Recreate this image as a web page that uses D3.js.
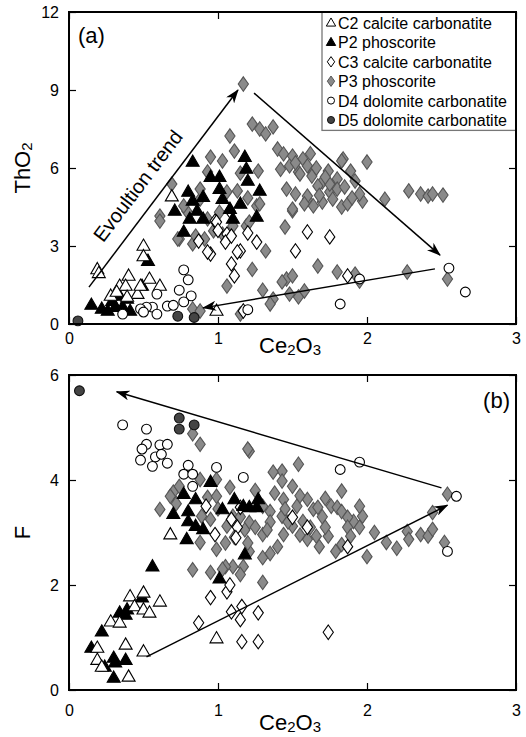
<!DOCTYPE html>
<html><head><meta charset="utf-8">
<script src="https://cdn.jsdelivr.net/npm/d3@7"></script>
<style>body{margin:0;background:#fff}svg{display:block;font-family:"Liberation Sans",Arial,sans-serif}</style>
</head><body><svg id="c" width="526" height="737"></svg>
<script>
// ---------- data ----------
const xTicks = [0, 1, 2, 3];
const yTicksA = [0, 3, 6, 9, 12];
const yTicksB = [0, 2, 4, 6];

const c2A = [[0.19,2.1],[0.2,1.95],[0.5,3.0],[0.5,2.6],[0.4,1.85],[0.34,1.46],[0.38,1.46],[0.54,1.73],[0.61,1.46],[0.28,1.08],[0.46,1.15],[0.48,1.46],[0.39,1.04],[0.32,1.23],[0.69,4.9],[0.99,0.5]];
const p2A = [[0.15,0.73],[0.22,0.58],[0.29,0.88],[0.34,1.08],[0.39,0.96],[0.31,0.65],[0.26,0.5],[0.49,1.46],[0.53,2.42],[0.36,0.65],[0.41,0.5],
  [0.83,6.23],[1.18,6.42],[1.19,5.96],[0.95,5.65],[1.01,5.65],[1.2,5.5],[0.8,5.08],[1.01,5.19],[1.28,5.12],[0.71,4.35],[0.83,4.73],[0.9,4.88],[1.03,4.8],[0.86,4.35],[1.15,4.62],[1.26,4.12],[0.77,3.54],[0.9,4.04],[1.08,4.42],[1.1,4.04],[0.81,4.04]];
const c3A = [[0.95,2.69],[1.09,2.31],[1.11,1.85],[1.15,2.81],[1.26,3.15],[1.06,3.46],[0.98,3.96],[1.08,4.35],[1.17,0.5],[0.87,3.19],[0.93,2.77],[0.99,3.92],[1.05,3.15],[1.13,2.77],[1.09,3.38],[1.52,2.81],[1.6,3.54],[1.75,3.35],[1.87,1.85],[1.0,3.6],[1.2,3.5]];
const p3A = [[1.17,9.23],[1.08,7.23],[1.23,7.69],[1.28,7.5],[1.32,7.31],[1.37,7.58],[1.11,6.65],[0.95,6.42],[1.03,6.27],[0.69,5.38],[0.61,4.15],[1.4,6.73],[1.44,6.54],[1.5,6.46],[1.57,6.35],[1.6,6.08],[1.48,6.08],[1.54,5.85],[1.64,5.85],[1.7,5.46],[1.8,5.58],[1.75,5.08],[1.6,4.8],[1.7,4.69],[1.46,5.19],[1.5,4.35],[1.45,3.73],[1.84,6.35],
  [1.55,5.77],[1.63,5.69],[1.74,5.88],[1.83,6.27],[1.89,5.88],[2.0,6.23],[1.67,5.31],[1.75,5.38],[1.8,5.19],[1.85,5.27],[1.6,4.92],[1.58,4.62],[1.64,4.54],[1.77,4.8],[1.83,4.5],[1.87,4.62],[1.97,4.73],[2.12,4.8],[2.28,5.12],[2.36,5.0],[2.41,4.92],[2.44,5.0],[2.51,4.96],
  [1.67,2.23],[1.8,2.0],[1.92,1.92],[1.95,1.65],[2.27,2.0],[2.54,1.73],[1.54,1.04],[1.46,1.73],[1.5,1.85],[1.43,1.62],[0.61,3.96],[0.74,3.27],[0.83,3.08],[0.91,3.27],[1.03,3.46],[1.19,3.77],[1.23,2.1],[1.06,1.46],[0.83,0.58],[0.88,0.5],[1.15,0.38],[1.37,0.96],
  [0.88,4.8],[1.06,5.08],[1.26,4.54],[1.32,2.81],[0.79,4.35],[0.93,4.04],[1.01,4.3],[1.35,0.77],[1.48,1.15],[1.58,1.27],[1.27,5.88],[0.77,4.54],[0.88,5.19],[0.93,5.85],[1.13,5.12],[1.28,4.62],[1.5,4.42],[0.73,3.27],[0.85,3.38],[0.97,3.58],[1.1,3.77],[1.21,3.92],[1.3,1.3],
  [1.52,6.2],[1.66,6.0],[1.72,5.65],[1.92,5.5],[1.95,5.0],[1.52,5.0],[1.68,4.95],[1.42,5.95],[1.62,6.55],[1.9,4.85],[1.15,5.8],[1.2,4.85]];
const d4A = [[0.77,2.08],[0.8,1.7],[0.82,1.08],[0.77,0.85],[0.59,1.15],[0.66,0.69],[0.56,0.65],[0.52,0.65],[0.48,0.58],[0.5,0.46],[0.59,0.38],[0.36,0.38],[1.2,0.55],[1.95,1.73],[1.82,0.77],[2.55,2.15],[2.66,1.23],[0.74,1.3],[0.7,0.72]];
const d5A = [[0.06,0.12],[0.73,0.3],[0.84,0.25]];

const c2B = [[0.41,1.78],[0.5,1.85],[0.44,1.59],[0.5,1.53],[0.54,1.47],[0.61,1.68],[0.28,1.3],[0.34,1.28],[0.19,0.8],[0.38,0.86],[0.19,0.57],[0.22,0.44],[0.4,0.25],[0.5,0.73],[0.99,0.98],[0.68,2.96]];
const p2B = [[0.56,2.35],[1.01,2.12],[0.49,1.76],[0.39,1.53],[0.34,1.47],[0.38,1.43],[0.22,1.11],[0.15,0.8],[0.3,0.61],[0.24,0.44],[0.38,0.57],[0.3,0.23],[0.31,0.52],
  [0.95,3.96],[0.77,3.73],[0.85,3.63],[0.7,3.35],[0.8,3.4],[0.8,3.21],[0.85,3.12],[0.9,3.06],[0.79,2.87],[1.03,3.44],[1.11,3.63],[1.17,3.5],[1.21,3.48],[1.27,3.63],[1.26,3.48],[1.18,2.58]];
const c3B = [[0.95,1.76],[1.06,1.87],[1.08,2.0],[0.87,1.28],[1.09,1.49],[1.15,1.34],[1.16,1.59],[1.27,1.47],[1.16,0.92],[1.27,0.92],[1.09,3.25],[1.13,3.1],[0.98,2.96],[1.5,3.29],[1.6,3.1],[1.15,3.48],[1.87,2.73],[1.74,1.1],[0.92,3.5],[1.12,2.9]];
const p3B = [[0.83,4.88],[0.88,4.68],[1.21,4.55],[1.54,4.3],[1.43,4.17],[1.43,3.98],[1.5,3.88],[0.61,3.44],[0.7,3.77],[0.88,4.01],[0.99,4.01],[1.08,3.86],[0.93,3.67],[0.99,3.69],[1.3,3.5],[1.35,3.4],[1.44,3.63],[1.43,3.31],[1.53,3.5],[1.6,3.63],[1.64,3.44],
  [0.89,3.31],[0.95,3.25],[1.06,3.12],[1.1,3.31],[1.21,3.19],[1.3,2.96],[1.4,2.73],[1.44,2.96],[1.5,3.12],[0.88,2.81],[0.99,2.68],[1.11,2.91],[1.21,2.64],[1.3,2.52],[1.1,2.35],[0.83,2.29],[0.95,2.24],[1.17,2.35],[0.74,3.88],[0.68,3.69],
  [1.83,3.79],[2.54,3.73],[1.67,3.48],[1.76,3.5],[1.8,3.48],[1.83,3.4],[1.97,3.31],[1.91,3.21],[1.87,3.29],[1.57,3.21],[1.62,3.1],[1.6,2.87],[1.66,2.93],[1.74,2.93],[1.87,3.1],[1.89,2.93],[1.68,2.73],[1.79,2.64],[1.83,2.77],[2.0,2.54],
  [2.13,2.81],[2.27,3.02],[2.28,2.87],[2.36,2.96],[2.41,2.93],[2.44,3.06],[2.44,3.38],[2.52,2.81],[1.05,2.35],[1.3,2.05],[1.37,4.15],[1.2,4.59],[1.03,2.3],[1.15,2.2],[0.72,3.55],[1.0,3.45],[1.15,3.3],[1.25,3.1],[1.35,3.2],[1.45,3.45],[1.7,3.3],[1.2,2.8],[1.05,2.8],[1.35,2.6],[2.2,2.7],
  [1.25,3.8],[1.38,3.75],[1.55,3.7],[1.72,3.65],[1.95,3.5],[1.47,3.2],[1.33,3.05],[1.18,3.05],[1.55,2.95],[1.72,3.1],[1.95,3.1],[2.05,3.0]];
const d4B = [[0.36,5.05],[0.52,4.97],[0.52,4.68],[0.49,4.59],[0.48,4.38],[0.58,4.44],[0.61,4.67],[0.66,4.68],[0.62,4.49],[0.56,4.26],[0.66,4.32],[0.8,4.28],[0.77,4.11],[0.83,4.11],[0.83,3.88],[0.99,4.24],[1.17,4.05],[1.82,4.2],[1.95,4.34],[2.6,3.69],[2.54,2.64]];
const d5B = [[0.07,5.7],[0.74,5.18],[0.74,4.97],[0.84,5.05]];

const arrowsA = [[[0.134,1.42],[1.134,9.0]], [[1.242,8.88],[2.49,2.65]], [[2.456,2.12],[0.9,0.62]]];
const arrowsB = [[[2.50,3.85],[0.32,5.68]], [[0.52,0.63],[2.54,3.52]]];
const trendLabelPos = [0.50, 5.15];

// ---------- series styles ----------
const styles = {
  C2: {label:"C2 calcite carbonatite", shape:"tri", fill:"#fff", stroke:"#000"},
  P2: {label:"P2 phoscorite", shape:"tri", fill:"#000", stroke:"#000"},
  C3: {label:"C3 calcite carbonatite", shape:"dia", fill:"#fff", stroke:"#000"},
  P3: {label:"P3 phoscorite", shape:"dia", fill:"#8a8a8a", stroke:"#555"},
  D4: {label:"D4 dolomite carbonatite", shape:"cir", fill:"#fff", stroke:"#000"},
  D5: {label:"D5 dolomite carbonatite", shape:"cir", fill:"#444", stroke:"#111"}
};
const legendOrder = ["C2","P2","C3","P3","D4","D5"];
const drawOrder = ["P3","C3","P2","C2","D4","D5"];

const svg = d3.select("#c");
const x = d3.scaleLinear().domain([0,3]).range([69,516]);
const yA = d3.scaleLinear().domain([0,12]).range([324,12]);
const yB = d3.scaleLinear().domain([0,6]).range([690,375]);

function shapePath(shape, k){
  if(shape==="tri"){ const s=13*k; const h=s*0.866; return `M0,${-h*0.62}L${s/2},${h*0.38}L${-s/2},${h*0.38}Z`; }
  if(shape==="dia"){ const w=5.1*k, h=7.2*k; return `M0,${-h}L${w},0L0,${h}L${-w},0Z`; }
  const r=4.9*k; return `M${r},0A${r},${r} 0 1,1 ${-r},0A${r},${r} 0 1,1 ${r},0Z`;
}

const defs = svg.append("defs");
defs.append("marker").attr("id","ah").attr("viewBox","0 0 14 10").attr("refX",13).attr("refY",5)
  .attr("markerWidth",14).attr("markerHeight",10).attr("markerUnits","userSpaceOnUse").attr("orient","auto")
  .append("path").attr("d","M0,0L14,5L0,10L4,5Z").attr("fill","#000");

function panel(y, yTicks, data, arrows, xPad){
  const g = svg.append("g");
  const [x0,x1] = x.range(); const [yb,yt] = y.range();
  const ax = (gen) => gen.tickSizeInner(-7).tickSizeOuter(0);
  g.append("g").attr("transform",`translate(0,${yb})`).call(ax(d3.axisBottom(x).tickValues(xTicks).tickFormat(d3.format("d")).tickPadding(xPad)));
  g.append("g").attr("transform",`translate(0,${yt})`).call(ax(d3.axisTop(x).tickValues(xTicks).tickFormat("")));
  g.append("g").attr("transform",`translate(${x0},0)`).call(ax(d3.axisLeft(y).tickValues(yTicks).tickFormat(d3.format("d")).tickPadding(10)));
  g.append("g").attr("transform",`translate(${x1},0)`).call(ax(d3.axisRight(y).tickValues(yTicks).tickFormat("")));
  g.selectAll(".domain").remove();
  g.selectAll(".tick line").attr("stroke","#000").attr("stroke-width",1.2);
  g.selectAll(".tick text").attr("font-size",16).attr("fill","#000").attr("font-family","Liberation Sans, Arial, sans-serif");

  drawOrder.forEach(k=>{
    const st = styles[k];
    g.append("g").selectAll("path").data(data[k]).join("path")
      .attr("d", shapePath(st.shape,1))
      .attr("transform", d=>`translate(${x(d[0])},${y(d[1])})`)
      .attr("fill", st.fill).attr("stroke", st.stroke).attr("stroke-width",1.1);
  });

  arrows.forEach(a=>{
    g.append("line").attr("x1",x(a[0][0])).attr("y1",y(a[0][1])).attr("x2",x(a[1][0])).attr("y2",y(a[1][1]))
      .attr("stroke","#000").attr("stroke-width",1.5).attr("marker-end","url(#ah)");
  });

  g.append("rect").attr("x",x0).attr("y",yt).attr("width",x1-x0).attr("height",yb-yt)
    .attr("fill","none").attr("stroke","#000").attr("stroke-width",2);
  return g;
}

const gA = panel(yA, yTicksA, {C2:c2A,P2:p2A,C3:c3A,P3:p3A,D4:d4A,D5:d5A}, arrowsA, 9);
const gB = panel(yB, yTicksB, {C2:c2B,P2:p2B,C3:c3B,P3:p3B,D4:d4B,D5:d5B}, arrowsB, 15);

// trend label
const a0 = arrowsA[0];
const ang = Math.atan2(yA(a0[1][1])-yA(a0[0][1]), x(a0[1][0])-x(a0[0][0]))*180/Math.PI;
gA.append("text").attr("transform",`translate(${x(trendLabelPos[0])},${yA(trendLabelPos[1])}) rotate(${ang})`)
  .attr("text-anchor","middle").attr("font-size",20).text("Evoultion trend");

// panel letters
gA.append("text").attr("x",x(0)+9).attr("y",yA(12)+31).attr("font-size",22).text("(a)");
gB.append("text").attr("x",x(3)-6).attr("y",yB(6)+33).attr("text-anchor","end").attr("font-size",22).text("(b)");

// axis titles
function ceTitle(g, yPos){
  const t = g.append("text").attr("x",290).attr("y",yPos).attr("text-anchor","middle").attr("font-size",22);
  t.append("tspan").text("Ce");
  t.append("tspan").attr("font-size",15).attr("dy",2).text("2");
  t.append("tspan").attr("dy",-2).text("O");
  t.append("tspan").attr("font-size",15).attr("dy",2).text("3");
}
ceTitle(gA, 353);
ceTitle(gB, 730);

const tTh = gA.append("text").attr("transform",`translate(30,${(yA.range()[0]+yA.range()[1])/2}) rotate(-90)`)
  .attr("text-anchor","middle").attr("font-size",22);
tTh.append("tspan").text("ThO");
tTh.append("tspan").attr("font-size",15).attr("dy",2).text("2");
gB.append("text").attr("transform",`translate(30,${(yB.range()[0]+yB.range()[1])/2}) rotate(-90)`)
  .attr("text-anchor","middle").attr("font-size",22).text("F");

// legend
const lg = gA.append("g");
const lx = 322, ly = 12, lw = x(3)-322, rowH = 19.4;
lg.append("rect").attr("x",lx).attr("y",ly).attr("width",lw).attr("height",rowH*6+2).attr("fill","#fff").attr("stroke","#777").attr("stroke-width",1.3);
legendOrder.forEach((k,i)=>{
  const st = styles[k]; const cy = ly + 11 + i*rowH;
  lg.append("path").attr("d", shapePath(st.shape,0.72)).attr("transform",`translate(${lx+9},${cy})`)
    .attr("fill",st.fill).attr("stroke",st.stroke).attr("stroke-width",1);
  lg.append("text").attr("x",lx+16).attr("y",cy+6).attr("font-size",16).text(st.label);
});
gA.append("rect").attr("x",x(0)).attr("y",yA(12)).attr("width",x(3)-x(0)).attr("height",yA(0)-yA(12))
  .attr("fill","none").attr("stroke","#000").attr("stroke-width",2);
</script></body></html>
